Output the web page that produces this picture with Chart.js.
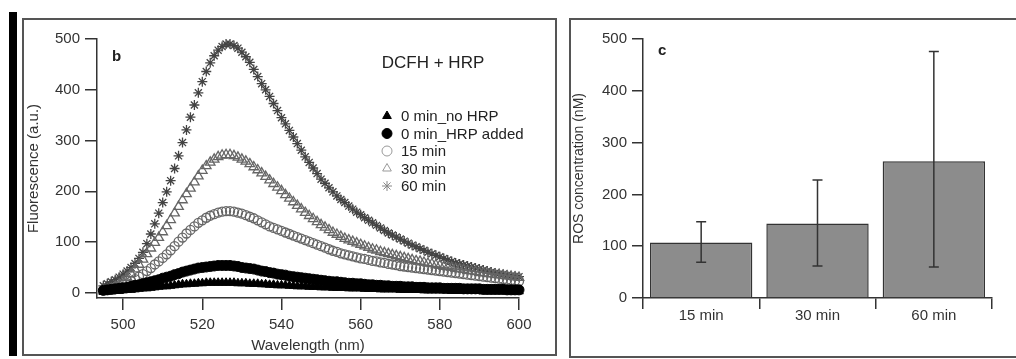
<!DOCTYPE html>
<html>
<head>
<meta charset="utf-8">
<script src="https://cdn.jsdelivr.net/npm/chart.js@4.4.1/dist/chart.umd.min.js"></script>
<style>
  body { margin: 0; background: #fff; width: 1016px; height: 359px; overflow: hidden; position: relative; }
  #blackbar { position: absolute; left: 9px; top: 12px; width: 8px; height: 344px; background: #000; }
  .frame { position: absolute; border: 2px solid #555; box-sizing: border-box; }
  #frameB { left: 22px; top: 18px; width: 535px; height: 338px; }
  #frameC { left: 569px; top: 18px; width: 452px; height: 340px; }
  canvas { position: absolute; top: 0; }
  #chartB { left: 0; }
  #chartC { left: 560px; }
</style>
</head>
<body>
<div id="blackbar"></div>
<div class="frame" id="frameB"></div>
<div class="frame" id="frameC"></div>
<canvas id="chartB" width="560" height="359"></canvas>
<canvas id="chartC" width="456" height="359"></canvas>
<script>
// ---- panel b: fluorescence spectra ----
const wavelength = [
  495, 496, 497, 498, 499, 500, 501, 502, 503, 504,
  505, 506, 507, 508, 509, 510, 511, 512, 513, 514,
  515, 516, 517, 518, 519, 520, 521, 522, 523, 524,
  525, 526, 527, 528, 529, 530, 531, 532, 533, 534,
  535, 536, 537, 538, 539, 540, 541, 542, 543, 544,
  545, 546, 547, 548, 549, 550, 551, 552, 553, 554,
  555, 556, 557, 558, 559, 560, 561, 562, 563, 564,
  565, 566, 567, 568, 569, 570, 571, 572, 573, 574,
  575, 576, 577, 578, 579, 580, 581, 582, 583, 584,
  585, 586, 587, 588, 589, 590, 591, 592, 593, 594,
  595, 596, 597, 598, 599, 600
];
const noHrp = [
  2, 3, 3, 4, 4, 5, 6, 6, 7, 8,
  9, 9, 10, 11, 12, 13, 13, 14, 15, 16,
  17, 17, 18, 18, 19, 19, 20, 20, 20, 20,
  20, 20, 20, 20, 19, 19, 19, 18, 18, 18,
  17, 17, 16, 16, 15, 15, 15, 14, 14, 13,
  13, 13, 12, 12, 12, 11, 11, 11, 10, 10,
  10, 10, 9, 9, 9, 9, 8, 8, 8, 8,
  7, 7, 7, 7, 7, 6, 6, 6, 6, 6,
  6, 5, 5, 5, 5, 5, 5, 5, 4, 4,
  4, 4, 4, 4, 4, 4, 3, 3, 3, 3,
  3, 3, 3, 3, 3, 3
];
const hrpAdded = [
  5, 6, 7, 8, 9, 10, 11, 13, 15, 16,
  18, 20, 22, 24, 26, 29, 31, 33, 36, 38,
  41, 43, 45, 47, 49, 50, 51, 52, 53, 54,
  54, 54, 54, 53, 52, 50, 49, 48, 47, 45,
  43, 42, 40, 39, 37, 36, 35, 33, 32, 31,
  30, 29, 28, 27, 26, 25, 24, 23, 22, 22,
  21, 20, 19, 19, 18, 18, 17, 16, 16, 15,
  15, 14, 14, 13, 13, 13, 12, 12, 12, 11,
  11, 11, 10, 10, 10, 10, 9, 9, 9, 9,
  9, 8, 8, 8, 8, 8, 7, 7, 7, 7,
  7, 7, 6, 6, 6, 6
];
const min15 = [
  6, 7, 9, 11, 13, 16, 19, 23, 27, 32,
  37, 43, 49, 56, 62, 69, 76, 84, 92, 101,
  109, 117, 124, 131, 138, 143, 148, 152, 155, 158,
  160, 161, 161, 160, 158, 156, 153, 150, 147, 143,
  139, 135, 131, 128, 125, 122, 119, 116, 113, 110,
  107, 104, 101, 98, 95, 92, 89, 86, 83, 81,
  78, 76, 74, 72, 70, 68, 67, 65, 63, 62,
  60, 59, 57, 56, 55, 53, 52, 51, 50, 49,
  48, 47, 46, 45, 44, 43, 42, 41, 40, 39,
  38, 37, 36, 35, 34, 33, 32, 31, 30, 29,
  28, 27, 26, 25, 24, 23
];
const min30 = [
  4, 6, 8, 12, 17, 23, 30, 38, 47, 56,
  66, 77, 88, 99, 109, 120, 132, 144, 157, 170,
  183, 195, 206, 218, 230, 241, 250, 257, 263, 268,
  271, 272, 272, 270, 267, 263, 259, 254, 248, 242,
  236, 229, 222, 215, 208, 201, 193, 186, 179, 172,
  165, 158, 152, 146, 140, 134, 129, 124, 119, 115,
  111, 107, 104, 101, 98, 95, 92, 89, 86, 84,
  81, 79, 77, 75, 73, 71, 69, 67, 65, 63,
  62, 60, 58, 57, 55, 54, 52, 51, 50, 48,
  47, 46, 44, 43, 42, 40, 39, 38, 37, 36,
  35, 34, 33, 32, 31, 30
];
const min60 = [
  14, 18, 22, 26, 31, 37, 43, 50, 58, 68,
  80, 97, 116, 136, 157, 178, 199, 221, 245, 270,
  296, 321, 346, 370, 394, 416, 436, 453, 467, 478,
  485, 490, 490, 487, 482, 474, 465, 454, 440, 426,
  412, 400, 387, 373, 359, 345, 333, 320, 307, 294,
  281, 268, 257, 246, 235, 224, 216, 207, 199, 191,
  184, 178, 171, 165, 159, 154, 148, 143, 138, 133,
  128, 123, 118, 114, 110, 106, 102, 98, 94, 91,
  87, 84, 80, 77, 74, 71, 68, 65, 62, 59,
  57, 55, 53, 51, 49, 47, 45, 43, 41, 39,
  38, 37, 35, 34, 33, 32
];
const seriesNames = ['0 min_no HRP', '0 min_HRP added', '15 min', '30 min', '60 min'];
const xTicksB = [500, 520, 540, 560, 580, 600];
const yTicksB = [0, 100, 200, 300, 400, 500];

// ---- panel c: ROS concentration ----
const categories = ['15 min', '30 min', '60 min'];
const rosMean = [107, 144, 264];
const rosLow = [69, 62, 60];
const rosHigh = [147, 228, 476];
const yTicksC = [0, 100, 200, 300, 400, 500];

const FONT = '"Liberation Sans", Arial, sans-serif';
Chart.defaults.font.family = FONT;
Chart.defaults.color = '#333';

const toPoints = (vals) => vals.map((v, i) => ({ x: wavelength[i], y: v }));

const markerStyles = [
  { pointStyle: 'triangle', radius: 5, fill: '#000', stroke: '#000', width: 1, legendFill: '#000', legendStroke: '#000' },
  { pointStyle: 'circle', radius: 5, fill: '#000', stroke: '#000', width: 1, legendFill: '#000', legendStroke: '#000' },
  { pointStyle: 'circle', radius: 4.5, fill: 'rgba(0,0,0,0)', stroke: '#666', width: 1.3, legendFill: 'rgba(0,0,0,0)', legendStroke: '#999' },
  { pointStyle: 'triangle', radius: 5.5, fill: 'rgba(0,0,0,0)', stroke: '#666', width: 1.3, legendFill: 'rgba(0,0,0,0)', legendStroke: '#999' },
  { pointStyle: 'star', radius: 5, fill: 'rgba(0,0,0,0)', stroke: '#444', width: 1.3, legendFill: 'rgba(0,0,0,0)', legendStroke: '#888' }
];
const seriesValues = [noHrp, hrpAdded, min15, min30, min60];

const labelsPlugin = {
  id: 'panelLabels',
  afterDraw(chart) {
    const ctx = chart.ctx;
    ctx.save();
    ctx.fillStyle = '#222';
    ctx.textBaseline = 'middle';
    ctx.font = 'bold 15px ' + FONT;
    ctx.textAlign = 'left';
    ctx.fillText('b', 112, 57);
    ctx.font = '17px ' + FONT;
    ctx.textAlign = 'center';
    ctx.fillText('DCFH + HRP', 433, 63);
    // legend
    const rows = [116, 133.5, 151, 168.5, 186];
    ctx.font = '15px ' + FONT;
    ctx.textAlign = 'left';
    seriesNames.forEach((name, i) => {
      const m = markerStyles[i];
      ctx.fillStyle = m.legendFill;
      ctx.strokeStyle = m.legendStroke;
      ctx.lineWidth = 1;
      Chart.helpers.drawPoint(ctx, { pointStyle: m.pointStyle, radius: 5, rotation: 0, borderWidth: 1 }, 387, rows[i]);
      ctx.fillStyle = '#222';
      ctx.fillText(name, 401, rows[i] + 1);
    });
    ctx.restore();
  }
};

new Chart(document.getElementById('chartB'), {
  type: 'scatter',
  data: {
    datasets: seriesNames.map((name, i) => ({
      label: name,
      data: toPoints(seriesValues[i]),
      pointStyle: markerStyles[i].pointStyle,
      pointRadius: markerStyles[i].radius,
      pointBackgroundColor: markerStyles[i].fill,
      pointBorderColor: markerStyles[i].stroke,
      pointBorderWidth: markerStyles[i].width,
      showLine: false,
      clip: false
    }))
  },
  options: {
    responsive: false,
    animation: false,
    events: [],
    layout: { padding: { left: 22, top: 39, right: 41, bottom: 4 } },
    plugins: { legend: { display: false }, tooltip: { enabled: false } },
    scales: {
      x: {
        type: 'linear',
        min: 493.4,
        max: 600,
        afterBuildTicks: (s) => { s.ticks = xTicksB.map(v => ({ value: v })); },
        afterFit: (s) => { s.height = 57; },
        grid: { drawOnChartArea: false, tickLength: 12, color: '#333', lineWidth: 1.5 },
        border: { color: '#333', width: 1.5 },
        ticks: { font: { size: 15 }, padding: 6, color: '#333', maxRotation: 0 },
        title: { display: true, text: 'Wavelength (nm)', font: { size: 15 }, color: '#333', padding: { top: 0, bottom: 0 } }
      },
      y: {
        min: -10,
        max: 500,
        afterBuildTicks: (s) => { s.ticks = yTicksB.map(v => ({ value: v })); },
        afterFit: (s) => { s.width = 75; },
        grid: { drawOnChartArea: false, tickLength: 12, color: '#333', lineWidth: 1.5 },
        border: { color: '#333', width: 1.5 },
        ticks: { font: { size: 15 }, padding: 5, color: '#333' },
        title: { display: true, text: 'Fluorescence (a.u.)', font: { size: 15 }, color: '#333', padding: { top: 3, bottom: 0 } }
      }
    }
  },
  plugins: [labelsPlugin]
});

const errorBars = {
  id: 'errorBars',
  afterDatasetsDraw(chart) {
    const ctx = chart.ctx;
    const y = chart.scales.y;
    const meta = chart.getDatasetMeta(0);
    ctx.save();
    ctx.strokeStyle = '#333';
    ctx.lineWidth = 1.5;
    meta.data.forEach((bar, i) => {
      const top = y.getPixelForValue(rosHigh[i]);
      const bot = y.getPixelForValue(rosLow[i]);
      ctx.beginPath();
      ctx.moveTo(bar.x, top); ctx.lineTo(bar.x, bot);
      ctx.moveTo(bar.x - 5, top); ctx.lineTo(bar.x + 5, top);
      ctx.moveTo(bar.x - 5, bot); ctx.lineTo(bar.x + 5, bot);
      ctx.stroke();
    });
    ctx.fillStyle = '#222';
    ctx.font = 'bold 15px ' + FONT;
    ctx.textBaseline = 'middle';
    ctx.fillText('c', 98, 51);
    ctx.restore();
  }
};

new Chart(document.getElementById('chartC'), {
  type: 'bar',
  data: {
    labels: categories,
    datasets: [{
      label: 'ROS concentration',
      data: rosMean,
      backgroundColor: '#8c8c8c',
      borderColor: '#333',
      borderWidth: 1.5,
      categoryPercentage: 1,
      barPercentage: 0.88
    }]
  },
  options: {
    responsive: false,
    animation: false,
    events: [],
    layout: { padding: { left: 10, top: 39, right: 24, bottom: 2 } },
    plugins: { legend: { display: false }, tooltip: { enabled: false } },
    scales: {
      x: {
        afterFit: (s) => { s.height = 59; },
        grid: { drawOnChartArea: false, offset: true, tickLength: 11, color: '#333', lineWidth: 1.5 },
        border: { color: '#333', width: 1.5 },
        ticks: { font: { size: 15 }, padding: -2, color: '#333' }
      },
      y: {
        min: 0,
        max: 500,
        afterBuildTicks: (s) => { s.ticks = yTicksC.map(v => ({ value: v })); },
        afterFit: (s) => { s.width = 73; },
        grid: { drawOnChartArea: false, tickLength: 11, color: '#333', lineWidth: 1.5 },
        border: { color: '#333', width: 1.5 },
        ticks: { font: { size: 15 }, padding: 5, color: '#333' },
        title: { display: true, text: 'ROS concentration (nM)', font: { size: 14 }, color: '#333', padding: { top: 1, bottom: 0 } }
      }
    }
  },
  plugins: [errorBars]
});
</script>
</body>
</html>
